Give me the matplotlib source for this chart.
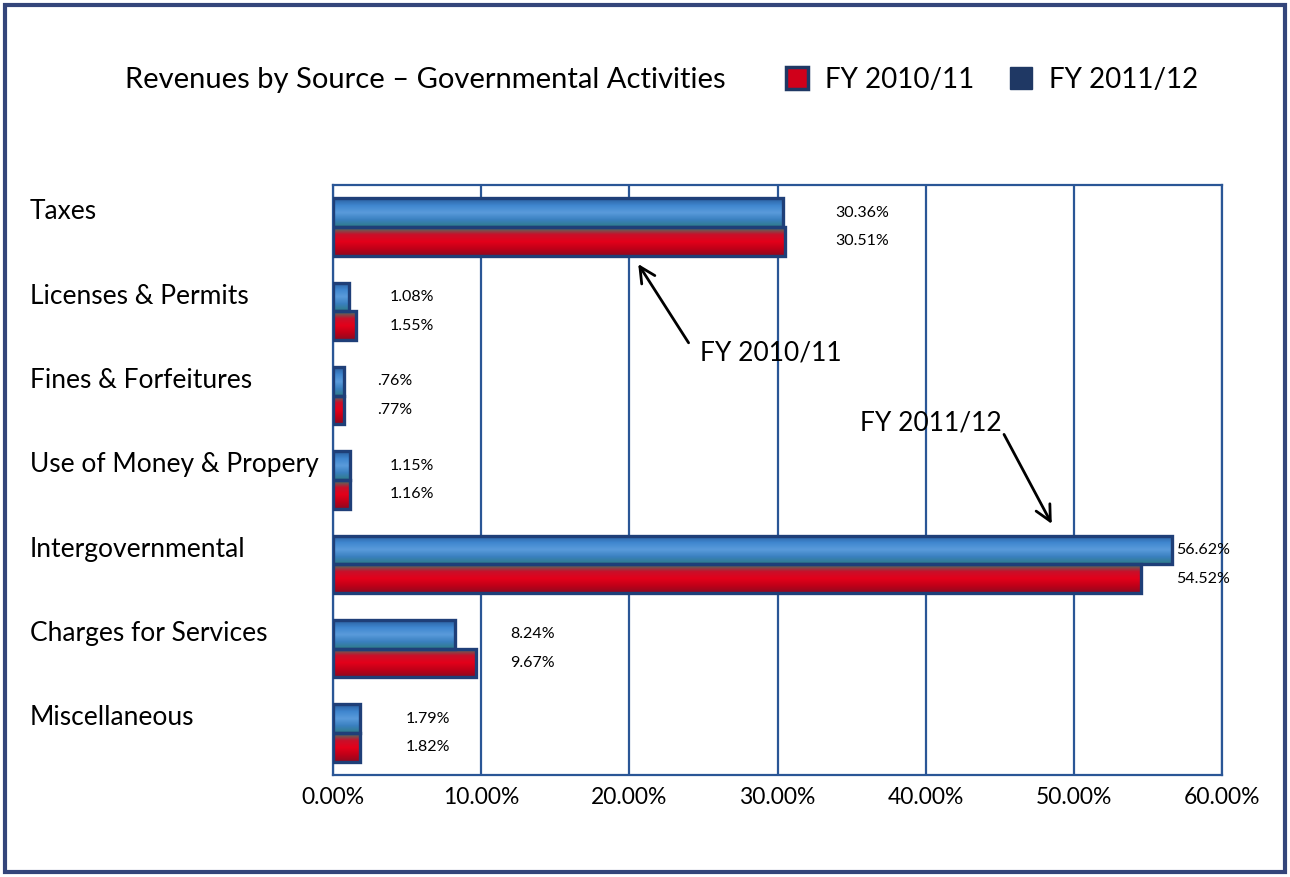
import matplotlib.pyplot as plt
import numpy as np
from matplotlib.colors import LinearSegmentedColormap
from matplotlib.lines import Line2D
from matplotlib.patches import Rectangle
from matplotlib.transforms import blended_transform_factory

plt.rcParams["font.family"] = ["Lato", "DejaVu Sans"]

# revenue share by source, percent of total
categories = [
    "Taxes",
    "Licenses & Permits",
    "Fines & Forfeitures",
    "Use of Money & Propery",
    "Intergovernmental",
    "Charges for Services",
    "Miscellaneous",
]
fy_2011_12 = [30.36, 1.08, 0.76, 1.15, 56.62, 8.24, 1.79]
fy_2010_11 = [30.51, 1.55, 0.77, 1.16, 54.52, 9.67, 1.82]
labels_2011_12 = ["30.36%", "1.08%", ".76%", "1.15%", "56.62%", "8.24%", "1.79%"]
labels_2010_11 = ["30.51%", "1.55%", ".77%", "1.16%", "54.52%", "9.67%", "1.82%"]
x_ticks = [0, 10, 20, 30, 40, 50, 60]

# gap (pixels) between the longer bar and its value labels
label_gap = [50, 34, 33, 40, 4, 34, 46]

navy = "#1F3F78"
grid_blue = "#2A5696"
blue_grad = LinearSegmentedColormap.from_list(
    "blue", ["#2A5F9E", "#3F86CF", "#5A9BDB", "#3A80C0", "#2F7C86"])
red_grad = LinearSegmentedColormap.from_list(
    "red", ["#3A7F6A", "#C8102A", "#E4001A", "#C00018", "#8E0A20"])

fig = plt.figure(figsize=(12.9, 8.77), dpi=100)
ax = fig.add_axes([333 / 1290, 1 - 775 / 877, 889 / 1290, 590 / 877])

y = np.arange(len(categories))
h = 0.34


def gradient_bars(ypos, values, cmap):
    bars = ax.barh(ypos, values, height=h, color=cmap(0.5), linewidth=0, zorder=2)
    grad = np.linspace(0, 1, 64).reshape(-1, 1)
    for patch in bars:
        x0, y0 = patch.get_x(), patch.get_y()
        w, hh = patch.get_width(), patch.get_height()
        im = ax.imshow(grad, cmap=cmap, aspect="auto", origin="upper",
                       extent=(x0, x0 + w, y0 + hh, y0), zorder=2.5,
                       interpolation="bilinear")
        im.set_clip_path(patch)
    ax.barh(ypos, values, height=h, fill=False, edgecolor=navy,
            linewidth=2.4, zorder=3)


gradient_bars(y - h / 2, fy_2011_12, blue_grad)
gradient_bars(y + h / 2, fy_2010_11, red_grad)

# value labels, blue year on top, red year underneath
for i in range(len(categories)):
    end = max(fy_2011_12[i], fy_2010_11[i])
    for yy, txt in ((y[i] - h / 2, labels_2011_12[i]), (y[i] + h / 2, labels_2010_11[i])):
        ax.annotate(txt, xy=(end, yy), xytext=(label_gap[i], 0),
                    textcoords="offset pixels", ha="left", va="center",
                    fontsize=11.5, color="black", zorder=4)

ax.set_xlim(0, 60)
ax.set_ylim(len(categories) - 0.5, -0.5)
ax.set_xticks(x_ticks)
ax.set_xticklabels([f"{t:.2f}%" for t in x_ticks], fontsize=16.5)
ax.set_yticks([])
ax.tick_params(axis="x", length=0, pad=9)
ax.grid(axis="x", color=grid_blue, linewidth=1.6, zorder=1)
ax.set_axisbelow(True)
for s in ax.spines.values():
    s.set_color(grid_blue)
    s.set_linewidth(1.6)

# category names sit at the left edge of the figure
trans = blended_transform_factory(fig.transFigure, ax.transData)
for i, name in enumerate(categories):
    ax.text(30 / 1290, y[i] - 0.18, name, transform=trans, ha="left",
            va="center", fontsize=19, clip_on=False)

# callout arrows
ax.annotate("", xy=(20.5, 0.41), xytext=(24.1, 1.40),
            arrowprops=dict(arrowstyle="->", color="black", lw=2, mutation_scale=28),
            zorder=5)
ax.text(24.8, 1.49, "FY 2010/11", ha="left", va="center", fontsize=19, zorder=5)
ax.annotate("", xy=(48.6, 3.55), xytext=(45.2, 2.43),
            arrowprops=dict(arrowstyle="->", color="black", lw=2, mutation_scale=28),
            zorder=5)
ax.text(35.6, 2.32, "FY 2011/12", ha="left", va="center", fontsize=19, zorder=5)

# title and legend across the top
fig.text(125 / 1290, 1 - 80 / 877, "Revenues by Source \u2013 Governmental Activities",
         ha="left", va="center", fontsize=21)
handles = [
    Line2D([], [], marker="s", linestyle="none", markersize=16,
           markerfacecolor="#D0001A", markeredgecolor="#1F3864", markeredgewidth=2.5),
    Line2D([], [], marker="s", linestyle="none", markersize=16,
           markerfacecolor="#1F3864", markeredgecolor="#1F3864"),
]
fig.legend(handles, ["FY 2010/11", "FY 2011/12"], loc="center left",
           bbox_to_anchor=(758 / 1290, 1 - 80 / 877), ncol=2, frameon=False,
           fontsize=20, handletextpad=0.5, columnspacing=1.2, handlelength=1.0)

# outer frame
fig.patches.append(Rectangle((0.004, 0.006), 0.992, 0.988, transform=fig.transFigure,
                             fill=False, edgecolor="#34457A", linewidth=3))

fig.savefig("out.png", dpi=100)
